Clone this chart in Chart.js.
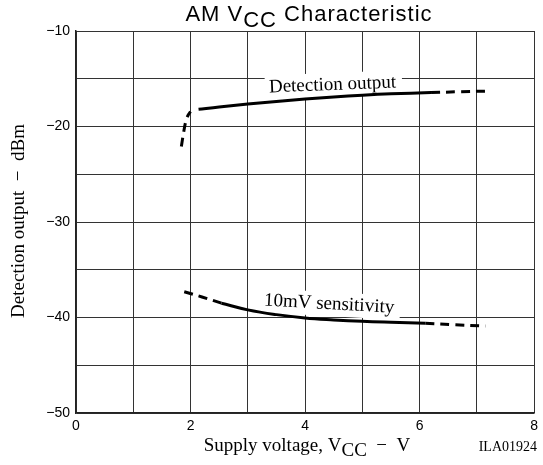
<!DOCTYPE html>
<html>
<head>
<meta charset="utf-8">
<script src="https://cdn.jsdelivr.net/npm/chart.js@4.4.1/dist/chart.umd.min.js"></script>
<style>
  body { margin: 0; background: #fff; }
  canvas { display: block; }
</style>
</head>
<body>
<canvas id="myChart" width="543" height="465"></canvas>
<script>
// curve values (supply voltage V, output dBm)
var detLowX = [1.84, 1.88, 1.92, 1.96, 2.0];
var detLowY = [-22.1, -20.6, -19.4, -18.8, -18.45];
var detMidX = [2.14, 2.5, 3, 3.5, 4, 4.5, 5, 5.5, 6.2];
var detMidY = [-18.2, -17.95, -17.65, -17.38, -17.12, -16.9, -16.72, -16.58, -16.45];
var detHighX = [6.2, 6.7, 7.15];
var detHighY = [-16.45, -16.36, -16.3];

var sensLowX = [1.89, 2.2, 2.54];
var sensLowY = [-37.3, -37.85, -38.5];
var sensMidX = [2.54, 3, 3.5, 4, 4.5, 5, 5.5, 6.1];
var sensMidY = [-38.5, -39.2, -39.7, -40.05, -40.25, -40.4, -40.5, -40.6];
var sensHighX = [6.1, 6.6, 7.15];
var sensHighY = [-40.6, -40.75, -40.9];

var xTicks = [0, 2, 4, 6, 8];
var yTicks = [-10, -20, -30, -40, -50];

function pts(xs, ys) {
    return xs.map(function (x, i) { return { x: x, y: ys[i] }; });
}

function curve(xs, ys, dashed) {
    return {
        data: pts(xs, ys),
        borderColor: "#000",
        borderWidth: 3,
        borderDash: dashed ? [9, 6] : [],
        pointRadius: 0,
        fill: false,
        tension: 0.4
    };
}

// draws text with "CC" style subscripts, runs = [[text, dy], ...]
function drawRuns(ctx, x, y, runs, align) {
    var w = 0;
    runs.forEach(function (r) { w += ctx.measureText(r[0]).width; });
    var cx = align === "center" ? x - w / 2 : (align === "right" ? x - w : x);
    ctx.textAlign = "left";
    runs.forEach(function (r) {
        ctx.fillText(r[0], cx, y + (r[1] || 0));
        cx += ctx.measureText(r[0]).width;
    });
}

var curveLabels = [
    { text: "Detection output", x: 4.48, y: -15.65, angle: -2.2 },
    { text: "10mV sensitivity", x: 4.42, y: -38.6, angle: 3.2 }
];

var labelPlugin = {
    id: "curveLabels",
    beforeDatasetsDraw: function (chart) {
        var ctx = chart.ctx;
        var sx = chart.scales.x, sy = chart.scales.y;
        ctx.save();
        ctx.font = "19px 'Liberation Serif'";
        curveLabels.forEach(function (l) {
            var px = sx.getPixelForValue(l.x), py = sy.getPixelForValue(l.y);
            var w = ctx.measureText(l.text).width;
            ctx.save();
            ctx.translate(px, py);
            ctx.rotate(l.angle * Math.PI / 180);
            ctx.fillStyle = "#fff";
            ctx.fillRect(-w / 2 - 4, -12, w + 10, 24);
            ctx.fillStyle = "#000";
            ctx.textBaseline = "middle";
            ctx.textAlign = "center";
            ctx.fillText(l.text, 0, 0);
            ctx.restore();
        });
        ctx.restore();
    }
};

var textPlugin = {
    id: "texts",
    afterDraw: function (chart) {
        var ctx = chart.ctx;
        ctx.save();
        ctx.fillStyle = "#000";
        ctx.textBaseline = "alphabetic";

        ctx.font = "22px 'Liberation Sans'";
        ctx.letterSpacing = "1px";
        drawRuns(ctx, 309, 21, [["AM V"], ["CC", 6], [" Characteristic"]], "center");
        ctx.letterSpacing = "0px";

        ctx.font = "19px 'Liberation Serif'";
        drawRuns(ctx, 307, 451, [["Supply voltage, V"], ["CC", 5], ["  \u2212  V"]], "center");

        ctx.font = "14px 'Liberation Serif'";
        drawRuns(ctx, 537, 451, [["ILA01924"]], "right");

        ctx.font = "19px 'Liberation Serif'";
        ctx.translate(24, 221);
        ctx.rotate(-Math.PI / 2);
        drawRuns(ctx, 0, 0, [["Detection output  \u2212  dBm"]], "center");
        ctx.restore();
    }
};

var ctx = document.getElementById("myChart").getContext("2d");
var myChart = new Chart(ctx, {
    type: "line",
    data: {
        datasets: [
            curve(detLowX, detLowY, true),
            curve(detMidX, detMidY, false),
            curve(detHighX, detHighY, true),
            curve(sensLowX, sensLowY, true),
            curve(sensMidX, sensMidY, false),
            curve(sensHighX, sensHighY, true)
        ]
    },
    options: {
        responsive: false,
        animation: false,
        devicePixelRatio: 1,
        layout: { padding: { left: 0, top: 31, right: 4, bottom: 0 } },
        plugins: {
            legend: { display: false },
            tooltip: { enabled: false },
            title: { display: false }
        },
        scales: {
            x: {
                type: "linear",
                min: 0,
                max: 8,
                afterFit: function (s) { s.height = 52; },
                ticks: {
                    stepSize: 1,
                    autoSkip: false,
                    maxRotation: 0,
                    padding: 5,
                    color: "#000",
                    font: { family: "'Liberation Sans'", size: 14 },
                    callback: function (v) { return xTicks.indexOf(v) >= 0 ? String(v) : ""; }
                },
                grid: { color: "#333", lineWidth: 1, drawTicks: false },
                border: { color: "#222", width: 1.5 }
            },
            y: {
                min: -50,
                max: -10,
                afterFit: function (s) { s.width = 76; },
                ticks: {
                    stepSize: 5,
                    autoSkip: false,
                    padding: 6,
                    color: "#000",
                    font: { family: "'Liberation Sans'", size: 14 },
                    callback: function (v) { return yTicks.indexOf(v) >= 0 ? "\u2212" + Math.abs(v) : ""; }
                },
                grid: { color: "#333", lineWidth: 1, drawTicks: false },
                border: { color: "#222", width: 1.5 }
            }
        }
    },
    plugins: [labelPlugin, textPlugin]
});
</script>
</body>
</html>
